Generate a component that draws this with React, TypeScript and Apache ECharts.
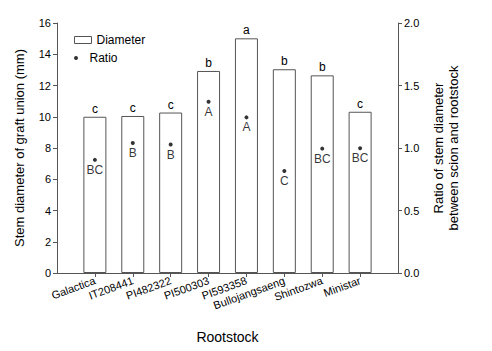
import React, { useEffect, useRef } from "react";
import * as echarts from "echarts";

const categories = ["Galactica", "IT208441", "PI482322", "PI500303", "PI593358", "Bullojangsaeng", "Shintozwa", "Ministar"];
const diameter = [10.0, 10.05, 10.27, 12.93, 15.02, 13.04, 12.65, 10.32];
const diameterLetters = ["c", "c", "c", "b", "a", "b", "b", "c"];
const ratio = [0.905, 1.04, 1.028, 1.37, 1.245, 0.816, 0.995, 0.998];
const ratioLetters = ["BC", "B", "B", "A", "A", "C", "BC", "BC"];
const leftTicks = { min: 0, max: 16, interval: 2 };
const rightTicks = { min: 0, max: 2, interval: 0.5 };

const FONT = "Liberation Sans, Arial, sans-serif";
const AX = "#555";

export default function App() {
  const ref = useRef<HTMLDivElement>(null);
  useEffect(() => {
    const chart = echarts.init(ref.current!, null, { renderer: "svg" });
    const cats = ["", ...categories, ""];
    const pad = (arr: any[]) => [null, ...arr, null];
    const inner = (i: number) => i > 0 && i < cats.length - 1;
    const legendText = { fontSize: 12, fontFamily: FONT, color: "#000" };
    chart.setOption({
      animation: false,
      textStyle: { fontFamily: FONT, color: "#000" },
      grid: { left: 57, right: 94, top: 23, bottom: 78, containLabel: false },
      legend: [
        {
          left: 69,
          top: 29,
          itemWidth: 17,
          itemHeight: 7,
          itemGap: 5,
          textStyle: legendText,
          data: [{ name: "Diameter", icon: "rect", itemStyle: { color: "#fff", borderColor: AX, borderWidth: 1 } }],
        },
        {
          left: 69,
          top: 47,
          itemWidth: 17,
          itemHeight: 4,
          textStyle: legendText,
          data: [{ name: "Ratio", icon: "circle", itemStyle: { color: "#000" } }],
        },
      ],
      xAxis: [
        {
          type: "category",
          data: cats,
          boundaryGap: false,
          axisLine: { show: true, lineStyle: { color: AX } },
          axisTick: { show: true, length: 4, interval: (i: number) => inner(i), lineStyle: { color: AX } },
          axisLabel: {
            interval: (i: number) => inner(i),
            rotate: 20,
            fontSize: 11,
            fontFamily: FONT,
            color: "#000",
            margin: 7,
          },
          name: "Rootstock",
          nameLocation: "middle",
          nameGap: 57,
          nameTextStyle: { fontSize: 14, fontFamily: FONT, color: "#000" },
          splitLine: { show: false },
        },
        {
          type: "category",
          data: cats,
          position: "top",
          boundaryGap: false,
          axisLine: { show: true, lineStyle: { color: AX } },
          axisTick: { show: false },
          axisLabel: { show: false },
          splitLine: { show: false },
        },
      ],
      yAxis: [
        {
          type: "value",
          ...leftTicks,
          position: "left",
          axisLine: { show: true, lineStyle: { color: AX } },
          axisTick: { show: true, length: 4, lineStyle: { color: AX } },
          axisLabel: { fontSize: 11, fontFamily: FONT, color: "#000", margin: 6 },
          splitLine: { show: false },
          name: "Stem diameter of graft union (mm)",
          nameLocation: "middle",
          nameRotate: 90,
          nameGap: 31,
          nameTextStyle: { fontSize: 13, fontFamily: FONT, color: "#000" },
        },
        {
          type: "value",
          ...rightTicks,
          position: "right",
          axisLine: { show: true, lineStyle: { color: AX } },
          axisTick: { show: true, length: 4, lineStyle: { color: AX } },
          axisLabel: { fontSize: 11, fontFamily: FONT, color: "#000", margin: 6, formatter: (v: number) => v.toFixed(1) },
          splitLine: { show: false },
          name: "Ratio of stem diameter\nbetween scion and rootstock",
          nameLocation: "middle",
          nameRotate: 90,
          nameGap: 33,
          nameTextStyle: { fontSize: 13, fontFamily: FONT, color: "#000", lineHeight: 15 },
        },
      ],
      series: [
        {
          name: "Diameter",
          type: "bar",
          xAxisIndex: 0,
          yAxisIndex: 0,
          barWidth: 23,
          data: pad(diameter),
          itemStyle: { color: "#fff", borderColor: AX, borderWidth: 1 },
          label: {
            show: true,
            position: "top",
            distance: 2,
            fontSize: 12,
            fontFamily: FONT,
            color: "#000",
            formatter: (p: any) => diameterLetters[p.dataIndex - 1] ?? "",
          },
          z: 1,
        },
        {
          name: "Ratio",
          type: "scatter",
          xAxisIndex: 0,
          yAxisIndex: 1,
          symbol: "circle",
          symbolSize: 4,
          data: pad(ratio),
          itemStyle: { color: "#000" },
          label: {
            show: true,
            position: "bottom",
            distance: 2,
            fontSize: 12,
            fontFamily: FONT,
            color: "#000",
            formatter: (p: any) => ratioLetters[p.dataIndex - 1] ?? "",
          },
          z: 3,
        },
      ],
    });
    return () => chart.dispose();
  }, []);
  return <div ref={ref} style={{ width: 492, height: 351, position: "absolute", left: 0, top: 0 }} />;
}
